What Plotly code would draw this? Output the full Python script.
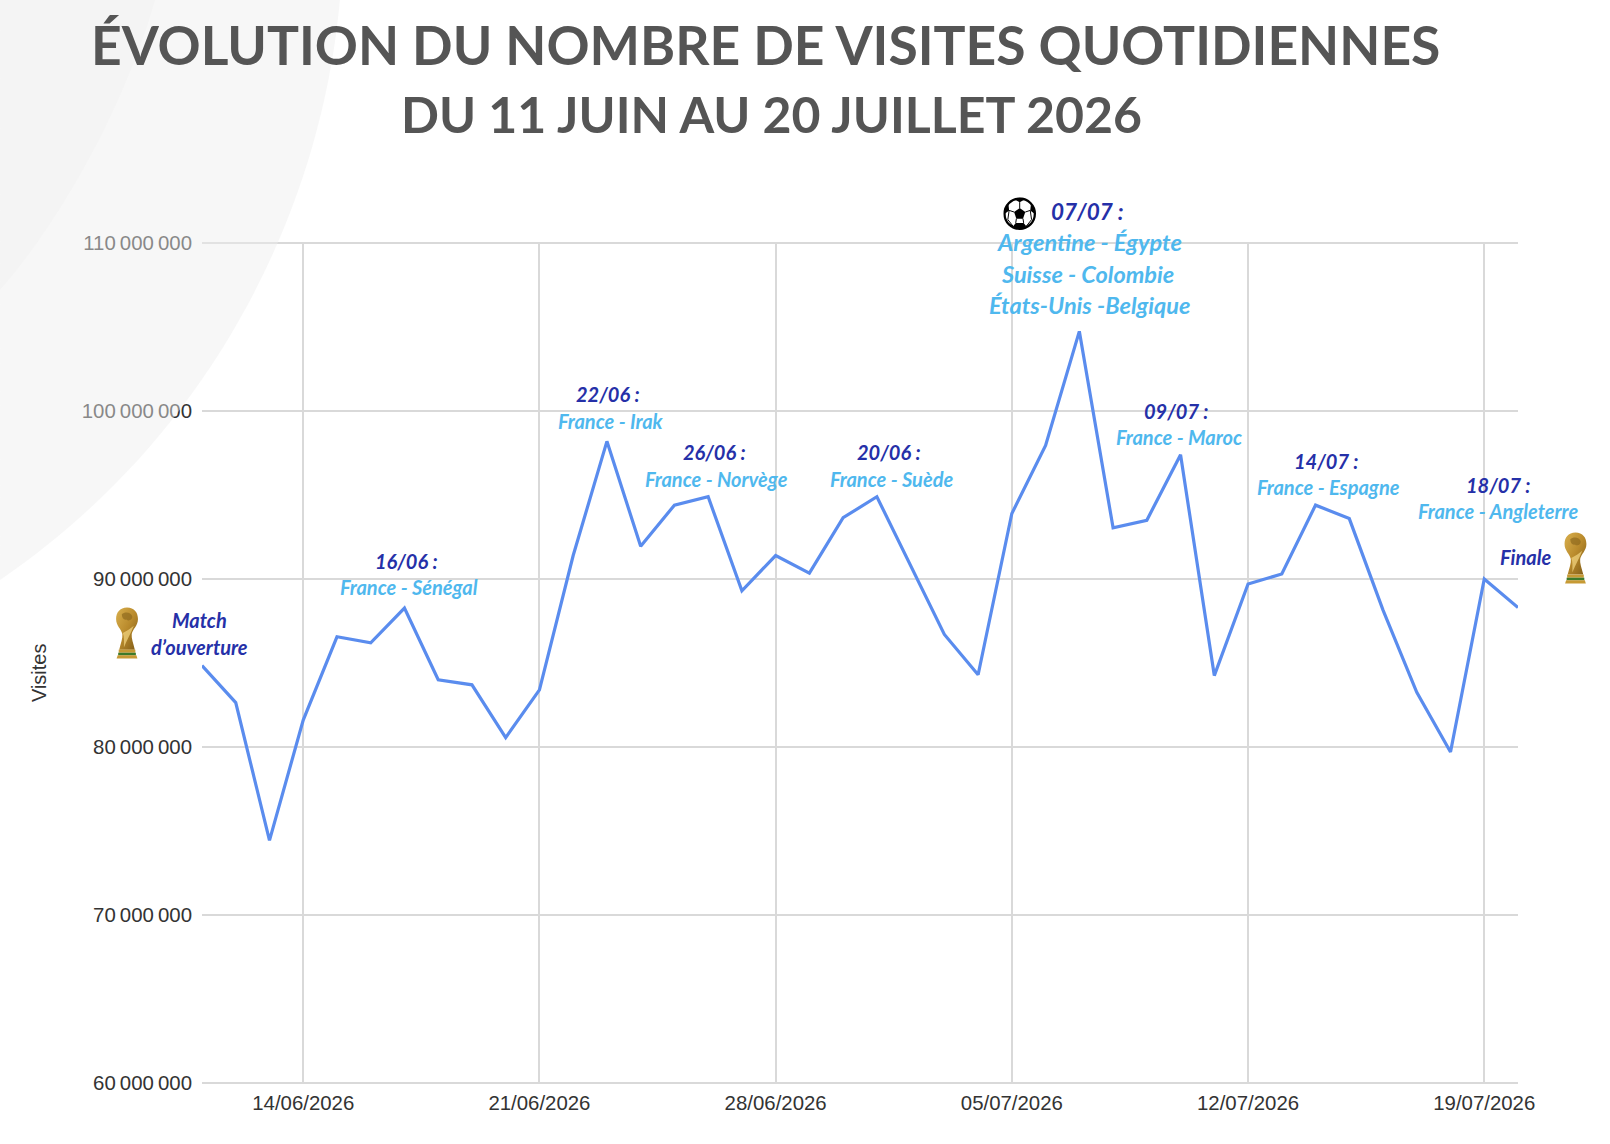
import base64
import plotly.graph_objects as go
import pandas as pd

WIDTH, HEIGHT = 1610, 1144
LEFT, RIGHT, TOP, BOTTOM = 202, 1518.5, 242.3, 1083.7
Y_MIN_M, Y_MAX_M = 59.93, 110.07

TITLE_1 = "ÉVOLUTION DU NOMBRE DE VISITES QUOTIDIENNES"
TITLE_2 = "DU 11 JUIN AU 20 JUILLET 2026"

dates = pd.date_range("2026-06-11", "2026-07-20", freq="D")
visits_m = [
    84.85, 82.64, 74.44, 81.6, 86.56, 86.2, 88.27, 84.0, 83.7, 80.56,
    83.4, 91.4, 98.2, 91.95, 94.4, 94.9, 89.3, 91.4, 90.35, 93.65,
    94.9, 90.85, 86.7, 84.3, 93.9, 97.95, 104.75, 93.05, 93.5, 97.4,
    84.25, 89.7, 90.3, 94.4, 93.6, 88.15, 83.25, 79.7, 90.0, 88.3,
]
x_ticks = ["2026-06-14", "2026-06-21", "2026-06-28", "2026-07-05", "2026-07-12", "2026-07-19"]
x_tick_labels = ["14/06/2026", "21/06/2026", "28/06/2026", "05/07/2026", "12/07/2026", "19/07/2026"]
y_ticks = [60e6, 70e6, 80e6, 90e6, 100e6, 110e6]
y_tick_labels = ["60\u2009000\u2009000", "70\u2009000\u2009000", "80\u2009000\u2009000",
                 "90\u2009000\u2009000", "100\u2009000\u2009000", "110\u2009000\u2009000"]

NAVY, SKY = "#2530a8", "#4fb8ee"
SMALL, LARGE = 20, 23.5

# (text, days since 11/06, visits in millions, colour, size)
labels = [
    ("Match", -0.08, 87.54, NAVY, SMALL), ("d’ouverture", -0.08, 85.95, NAVY, SMALL),
    ("16/06 :", 6.07, 91.09, NAVY, SMALL), ("France - Sénégal", 6.13, 89.5, SKY, SMALL),
    ("22/06 :", 12.04, 101.0, NAVY, SMALL), ("France - Irak", 12.13, 99.41, SKY, SMALL),
    ("26/06 :", 15.2, 97.58, NAVY, SMALL), ("France - Norvège", 15.26, 95.98, SKY, SMALL),
    ("20/06 :", 20.37, 97.58, NAVY, SMALL), ("France - Suède", 20.43, 95.98, SKY, SMALL),
    ("07/07 :", 26.24, 111.9, NAVY, 22.5), ("Argentine - Égypte", 26.3, 110.06, SKY, LARGE),
    ("Suisse - Colombie", 26.24, 108.16, SKY, LARGE), ("États-Unis -Belgique", 26.33, 106.33, SKY, LARGE),
    ("09/07 :", 28.89, 100.02, NAVY, SMALL), ("France - Maroc", 28.95, 98.43, SKY, SMALL),
    ("14/07 :", 33.33, 97.02, NAVY, SMALL), ("France - Espagne", 33.39, 95.49, SKY, SMALL),
    ("18/07 :", 38.41, 95.62, NAVY, SMALL), ("France - Angleterre", 38.41, 94.03, SKY, SMALL),
    ("Finale", 39.23, 91.33, NAVY, SMALL),
]


def px(x):
    return (x - LEFT) / (RIGHT - LEFT)


def py(y):
    return (BOTTOM - y) / (BOTTOM - TOP)


def svg_uri(svg):
    return "data:image/svg+xml;base64," + base64.b64encode(svg.encode()).decode()


TROPHY = """<svg xmlns="http://www.w3.org/2000/svg" viewBox="0 0 44 100" width="88" height="200">
<defs><linearGradient id="g" x1="0" x2="1" y1="0" y2="1">
<stop offset="0" stop-color="#d9b04e"/><stop offset="0.5" stop-color="#b98a2c"/><stop offset="1" stop-color="#7d5a17"/>
</linearGradient></defs>
<path d="M22 1 C36 1 43 11 43 23 C43 36 33 42 31 52 C30 60 34 70 37 82 L7 82 C10 70 14 60 13 52 C11 42 1 36 1 23 C1 11 8 1 22 1Z" fill="url(#g)"/>
<path d="M12 14 C18 8 30 10 32 18 C33 25 24 28 21 24 C17 26 12 22 12 14Z" fill="#8f6a1e" opacity="0.7"/>
<path d="M14 50 C22 46 30 40 35 36 C30 50 22 62 16 78 C16 66 17 58 14 50Z" fill="#f0d27e" opacity="0.75"/>
<rect x="6" y="82" width="32" height="6" fill="#c79a34"/>
<rect x="5" y="88" width="34" height="5" fill="#3d7a2a"/>
<path d="M4 93 L40 93 L42 99 L2 99Z" fill="#c79a34"/>
</svg>"""

BALL = """<svg xmlns="http://www.w3.org/2000/svg" viewBox="0 0 100 100" width="200" height="200">
<circle cx="50" cy="50" r="46" fill="#fff" stroke="#000" stroke-width="7"/>
<path d="M50 33 L67 45 L60 65 L40 65 L33 45Z" fill="#000"/>
<path d="M36 8 L50 15 L64 8 L55 3 L45 3Z M84 22 L82 40 L95 50 L96 36Z M16 22 L18 40 L5 50 L4 36Z M30 88 L38 78 L62 78 L70 88 L57 97 L43 97Z" fill="#000"/>
<path d="M50 15 L50 33 M67 45 L82 40 M33 45 L18 40 M40 65 L38 78 M60 65 L62 78 M82 40 L86 68 L70 88 M18 40 L14 68 L30 88" stroke="#000" stroke-width="3" fill="none"/>
</svg>"""

fig = go.Figure(
    go.Scatter(
        x=dates,
        y=[v * 1e6 for v in visits_m],
        mode="lines",
        line=dict(color="#5a8cee", width=3.2),
        hoverinfo="x+y",
    )
)

common = dict(xref="paper", yref="paper", xanchor="center", yanchor="middle", showarrow=False)
annotations = [
    dict(text=f"<b>{TITLE_1}</b>", x=px(766), y=py(44.5),
         font=dict(family="Lato", size=53.4, color="#555555"), **common),
    dict(text=f"<b>{TITLE_2}</b>", x=px(772), y=py(114.5),
         font=dict(family="Lato", size=50, color="#555555"), **common),
    dict(text="Visites", x=px(39), y=py(673), textangle=-90,
         font=dict(family="Liberation Sans", size=20, color="#333333"), **common),
]
span_days = (dates[-1] - dates[0]).days
for text, day, value, colour, size in labels:
    annotations.append(dict(
        text=f"<b><i>{text}</i></b>",
        x=day / span_days,
        y=(value - Y_MIN_M) / (Y_MAX_M - Y_MIN_M),
        font=dict(family="Lato", size=size, color=colour),
        **common,
    ))

images = [
    dict(source=svg_uri(TROPHY), xref="paper", yref="paper", x=px(127), y=py(633),
         sizex=24 / (RIGHT - LEFT), sizey=52 / (BOTTOM - TOP),
         xanchor="center", yanchor="middle", sizing="contain", layer="above"),
    dict(source=svg_uri(TROPHY), xref="paper", yref="paper", x=px(1576), y=py(558),
         sizex=24 / (RIGHT - LEFT), sizey=52 / (BOTTOM - TOP),
         xanchor="center", yanchor="middle", sizing="contain", layer="above"),
    dict(source=svg_uri(BALL), xref="paper", yref="paper", x=px(1020), y=py(214),
         sizex=33 / (RIGHT - LEFT), sizey=33 / (BOTTOM - TOP),
         xanchor="center", yanchor="middle", sizing="contain", layer="above"),
]

# Pale arcs in the top-left corner, laid over the chart.
outer = (f"M {px(0)} {py(0)} L {px(340)} {py(0)} "
         f"C {px(320)} {py(220)} {px(205)} {py(440)} {px(0)} {py(580)} Z")
inner = (f"M {px(0)} {py(0)} L {px(155)} {py(0)} "
         f"C {px(130)} {py(90)} {px(70)} {py(210)} {px(0)} {py(290)} Z")
shapes = [
    dict(type="path", path=outer, xref="paper", yref="paper", layer="above",
         line=dict(width=0), fillcolor="rgba(237,237,237,0.46)"),
    dict(type="path", path=inner, xref="paper", yref="paper", layer="above",
         line=dict(width=0), fillcolor="rgba(225,225,225,0.13)"),
]

fig.update_layout(
    width=WIDTH,
    height=HEIGHT,
    margin=dict(l=LEFT, r=WIDTH - RIGHT, t=TOP, b=HEIGHT - BOTTOM, autoexpand=False),
    paper_bgcolor="white",
    plot_bgcolor="white",
    showlegend=False,
    annotations=annotations,
    images=images,
    shapes=shapes,
    font=dict(family="Liberation Sans", size=20.4, color="#333333"),
)
fig.update_xaxes(
    range=[dates[0], dates[-1]],
    tickvals=x_ticks,
    ticktext=x_tick_labels,
    ticklabelstandoff=5,
    showgrid=True,
    gridcolor="#d9d9d9",
    gridwidth=2,
    zeroline=False,
    showline=False,
    ticks="",
)
# Slack on the range keeps the 60 M and 110 M grid lines from being clipped away.
fig.update_yaxes(
    range=[Y_MIN_M * 1e6, Y_MAX_M * 1e6],
    tickvals=y_ticks,
    ticktext=y_tick_labels,
    ticklabelstandoff=9,
    showgrid=True,
    gridcolor="#d9d9d9",
    gridwidth=2,
    zeroline=False,
    showline=False,
    ticks="",
)

fig.write_html("out.html")
